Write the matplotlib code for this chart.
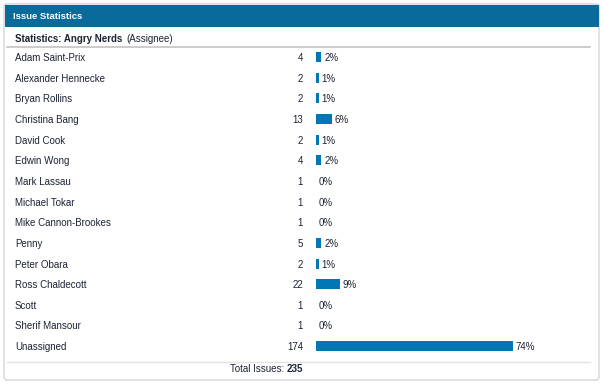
import matplotlib.pyplot as plt
from matplotlib.patches import FancyBboxPatch, Rectangle

plt.rcParams['font.family'] = ['Liberation Sans', 'DejaVu Sans']

# Data
names = ["Adam Saint-Prix", "Alexander Hennecke", "Bryan Rollins", "Christina Bang",
         "David Cook", "Edwin Wong", "Mark Lassau", "Michael Tokar",
         "Mike Cannon-Brookes", "Penny", "Peter Obara", "Ross Chaldecott",
         "Scott", "Sherif Mansour", "Unassigned"]
counts = [4, 2, 2, 13, 2, 4, 1, 1, 1, 5, 2, 22, 1, 1, 174]
percents = [2, 1, 1, 6, 1, 2, 0, 0, 0, 2, 1, 9, 0, 0, 74]
total = 235

W, H = 604, 384
fig = plt.figure(figsize=(W / 100, H / 100), dpi=100)
ax = fig.add_axes([0, 0, 1, 1])
ax.set_xlim(0, W)
ax.set_ylim(H, 0)
ax.axis('off')

header_blue = '#0a6a9c'
bar_blue = '#0077b5'
text_col = '#1c2333'
fs = 7

# panel frame
ax.add_patch(FancyBboxPatch((4, 4), 595, 376, boxstyle="round,pad=0,rounding_size=3",
                            fc='white', ec='#d4d4d4', lw=1))
ax.add_patch(Rectangle((4.5, 4.5), 594.5, 22.5, fc=header_blue, ec='none'))
ax.text(13, 16.5, "Issue Statistics", color='white', fontsize=6.8, fontweight='bold',
        va='center', ha='left')

ax.text(15, 38.5, "Statistics: Angry Nerds", color=text_col, fontsize=fs,
        fontweight='bold', va='center', ha='left')
ax.text(126, 38.5, "(Assignee)", color=text_col, fontsize=fs, va='center', ha='left')
ax.plot([7, 590], [46.5, 46.5], color='#c4c4c4', lw=1.2)

# rows
y0, dy = 57.0, 20.65
ys = [y0 + i * dy for i in range(len(names))]
bar_x0, full_w = 316, 266
widths = [p / 100 * full_w for p in percents]
ax.barh(ys, widths, left=bar_x0, height=10, color=bar_blue)

for y, n, c, w, p in zip(ys, names, counts, widths, percents):
    ty = y + 1
    ax.text(15, ty, n, color=text_col, fontsize=fs, va='center', ha='left')
    ax.text(303, ty, str(c), color=text_col, fontsize=fs, va='center', ha='right')
    ax.text(bar_x0 + w + 3, ty, f"{p}%", color=text_col, fontsize=fs, va='center', ha='left')

ax.plot([7, 590], [361.5, 361.5], color='#e2e2e2', lw=1)
tot = ax.text(303, 369, f"{total}", color=text_col, fontsize=fs, fontweight='bold',
              va='center', ha='right')
fig.canvas.draw()
bb = tot.get_window_extent()
ax.annotate("Total Issues: ", xy=(bb.x0, (bb.y0 + bb.y1) / 2), xycoords='figure pixels',
            color=text_col, fontsize=fs, va='center', ha='right')

fig.savefig('out.png', dpi=100)
